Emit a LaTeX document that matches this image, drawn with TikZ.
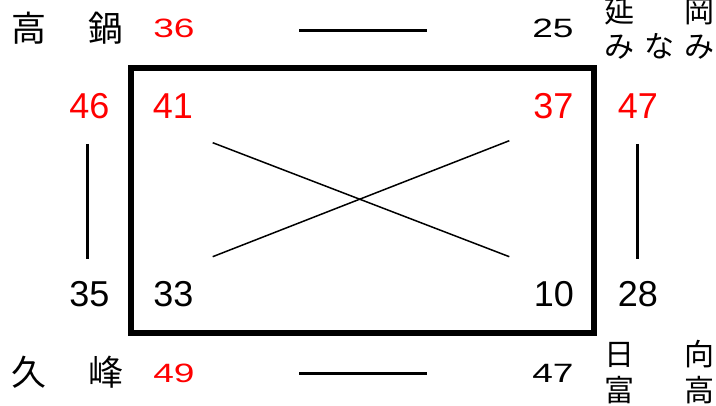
\documentclass[tikz,border=0pt]{standalone}
\usepackage{fontspec}
\setmainfont{Liberation Sans}
\newfontfamily\widedigits[FakeStretch=1.4]{Liberation Sans}
\newfontfamily\jp{Noto Sans CJK JP}
\definecolor{numred}{RGB}{255,0,0}
\begin{document}
\begin{tikzpicture}[x=1pt,y=-1pt,
  big/.style={inner sep=0pt, font=\fontsize{36}{36}\selectfont},
  small/.style={inner sep=0pt, font=\widedigits\fontsize{26.5}{26.5}\selectfont},
  kanjiL/.style={inner sep=0pt, anchor=west, font=\jp\fontsize{35}{35}\selectfont},
  kanjiR/.style={inner sep=0pt, anchor=west, font=\jp\fontsize{30}{30}\selectfont},
  red/.style={text=numred},
  thick line/.style={line width=3pt},
  thin line/.style={line width=1.5pt}]
\useasboundingbox (0,0) rectangle (716,406);
% main frame
\node[draw, line width=6pt, inner sep=0pt, minimum width=463.5pt, minimum height=265pt] (frame) at (362.25,200.5) {};
% place names
\node[kanjiL] (takanabe) at (11.5,28.5) {\hbox to 111.5pt{高\hfill 鍋}};
\node[kanjiL] (kumine) at (11.5,372) {\hbox to 111.5pt{久\hfill 峰}};
\node[kanjiR] (nobeoka) at (604,11.5) {\hbox to 110pt{延\hfill 岡}};
\node[kanjiR] (minami) at (604,46.5) {\hbox to 110pt{み\hfill な\hfill み}};
\node[kanjiR] (hyuga) at (604,354.5) {\hbox to 110pt{日\hfill 向}};
\node[kanjiR] (tomitaka) at (604,390) {\hbox to 110pt{富\hfill 高}};
% small numbers
\node[small, red] (n36) at (174,28) {36};
\node[small] (n25) at (553,28) {25};
\node[small, red] (n49) at (174,373) {49};
\node[small] (n47b) at (553,373) {47};
% big numbers
\node[big, red] (n46) at (89.5,106.5) {46};
\node[big, red] (n41) at (173,106.5) {41};
\node[big, red] (n37) at (553.5,106.5) {37};
\node[big, red] (n47) at (638,106.5) {47};
\node[big] (n35) at (89.5,294.5) {35};
\node[big] (n33) at (173.5,294.5) {33};
\node[big] (n10) at (554,294.5) {10};
\node[big] (n28) at (638,294.5) {28};
% connector end points
\coordinate (t1) at (299,30.3);
\coordinate (t2) at (427,30.3);
\coordinate (b1) at (299,373.3);
\coordinate (b2) at (427,373.3);
\coordinate (l1) at (87.7,144);
\coordinate (l2) at (87.7,259);
\coordinate (r1) at (637.7,144);
\coordinate (r2) at (637.7,259);
\coordinate (xa) at (212.7,142.7);
\coordinate (xb) at (509.3,256.7);
\coordinate (xc) at (212.7,256.7);
\coordinate (xd) at (509.3,140.7);
\draw[thick line] (t1) -- (t2);
\draw[thick line] (b1) -- (b2);
\draw[thick line] (l1) -- (l2);
\draw[thick line] (r1) -- (r2);
\draw[thin line] (xa) -- (xb);
\draw[thin line] (xc) -- (xd);
\end{tikzpicture}
\end{document}
